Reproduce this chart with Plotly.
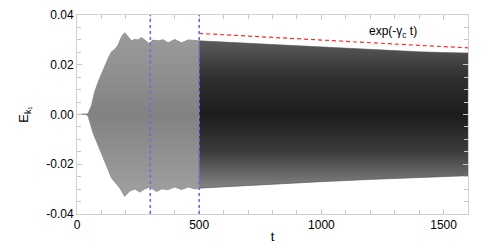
import plotly.graph_objects as go

# Upper envelope of E_k1(t)
t_up = [0, 35, 45, 59, 72, 86, 100, 113, 127, 141, 154, 168, 182, 195, 209, 223, 236, 250, 264,
        277, 294, 311, 332, 352, 373, 400, 428, 455, 482, 500,
        600, 700, 800, 955, 1100, 1200, 1300, 1400, 1500, 1600]
e_up = [0, 0, 0.0003, 0.0036, 0.0090, 0.0130, 0.0164, 0.0191, 0.0225, 0.0252, 0.0261, 0.0279, 0.0312, 0.0329,
        0.0312, 0.0296, 0.0302, 0.0300, 0.0310, 0.0299, 0.0286, 0.0299, 0.0296, 0.0301, 0.0288, 0.0302,
        0.0288, 0.0300, 0.0296, 0.0296,
        0.0291, 0.0286, 0.0281, 0.0272, 0.0265, 0.0260, 0.0256, 0.0252, 0.0249, 0.0247]
# Lower envelope
t_lo = [0, 35, 45, 65, 86, 107, 127, 141, 154, 175, 195, 216, 236, 257, 277, 298, 325, 346, 373,
        400, 428, 455, 482, 500,
        668, 800, 1000, 1200, 1484, 1600]
e_lo = [0, 0, -0.0005, -0.0073, -0.0127, -0.0174, -0.0221, -0.0255, -0.0268, -0.0295, -0.0329, -0.0308,
        -0.0299, -0.0312, -0.0299, -0.0291, -0.0310, -0.0299, -0.0302, -0.0291, -0.0302, -0.0291, -0.0299,
        -0.0296,
        -0.0287, -0.0281, -0.0270, -0.0261, -0.0250, -0.0246]

# exp(-gamma_c t) fit line
t_fit = [500, 800, 1100, 1400, 1600]
e_fit = [0.0326, 0.0309, 0.0293, 0.0278, 0.0268]

marker_t = [300, 500]
split_t = 500

x_ticks = [0, 500, 1000, 1500]
y_ticks = [-0.04, -0.02, 0.00, 0.02, 0.04]
y_ticklabels = ["-0.04", "-0.02", "0.00", "0.02", "0.04"]


def band(tmin, tmax):
    up = [(t, e) for t, e in zip(t_up, e_up) if tmin <= t <= tmax]
    lo = [(t, e) for t, e in zip(t_lo, e_lo) if tmin <= t <= tmax]
    xs = [p[0] for p in up] + [p[0] for p in reversed(lo)]
    ys = [p[1] for p in up] + [p[1] for p in reversed(lo)]
    return xs, ys


fig = go.Figure()

x1, y1 = band(0, split_t)
fig.add_trace(go.Scatter(
    x=x1, y=y1, mode="lines", fill="toself",
    line=dict(color="#8a8a8a", width=0.8),
    fillgradient=dict(type="vertical", start=-0.033, stop=0.033,
                      colorscale=[[0, "#a0a0a0"], [0.5, "#828282"], [1, "#9c9c9c"]]),
    hoverinfo="skip", showlegend=False))

x2, y2 = band(split_t, 1600)
fig.add_trace(go.Scatter(
    x=x2, y=y2, mode="lines", fill="toself",
    line=dict(color="#555555", width=0.6),
    fillgradient=dict(type="vertical", start=-0.029, stop=0.029,
                      colorscale=[[0, "#808080"], [0.25, "#3a3a3a"], [0.5, "#1c1c1c"],
                                  [0.75, "#2e2e2e"], [1, "#5a5a5a"]]),
    hoverinfo="skip", showlegend=False))

fig.add_trace(go.Scatter(
    x=t_fit, y=e_fit, mode="lines",
    line=dict(color="#ff2a2a", width=1.2, dash="4px,3px"),
    hoverinfo="skip", showlegend=False))

for tm in marker_t:
    fig.add_shape(type="line", x0=tm, x1=tm, xref="x", yref="paper", y0=0, y1=1,
                  line=dict(color="#6a6ae6", width=1.6, dash="dot"), layer="above")

fig.add_annotation(x=1295, y=0.0333, xref="x", yref="y",
                   text="exp(-γ<sub>c</sub> t)", showarrow=False,
                   font=dict(size=12, color="#000000"))

axis_common = dict(
    showline=True, linecolor="#d0d0d0", linewidth=1, mirror="ticks",
    ticks="inside", ticklen=5, tickcolor="#c8c8c8", tickwidth=1,
    showgrid=False, zeroline=False, automargin=False,
    tickfont=dict(family="Liberation Sans, Arial, sans-serif", size=12, color="#000000"),
)

fig.update_xaxes(range=[0, 1600], tickvals=x_ticks, ticktext=[str(v) for v in x_ticks],
                 minor=dict(dtick=100, ticks="inside", ticklen=4, tickcolor="#c8c8c8"),
                 title=dict(text="t", standoff=0, font=dict(size=13, color="#000000")),
                 **axis_common)
fig.update_yaxes(range=[-0.04, 0.04], tickvals=y_ticks, ticktext=y_ticklabels,
                 minor=dict(dtick=0.005, ticks="inside", ticklen=4, tickcolor="#c8c8c8"),
                 title=dict(text="E<sub>k₁</sub>", standoff=14, font=dict(size=13, color="#000000")),
                 **axis_common)

fig.update_layout(
    width=491, height=245,
    margin=dict(l=69, r=31, t=7, b=39, autoexpand=False),
    plot_bgcolor="#ffffff", paper_bgcolor="#ffffff",
    font=dict(family="Liberation Sans, Arial, sans-serif", size=12, color="#000000"),
)

fig.write_html("out.html")
